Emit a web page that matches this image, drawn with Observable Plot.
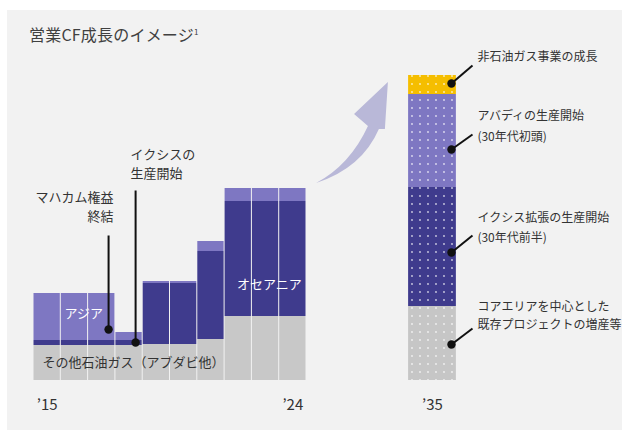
<!DOCTYPE html>
<html>
<head>
<meta charset="utf-8">
<script src="https://cdn.jsdelivr.net/npm/d3@7"></script>
<script src="https://cdn.jsdelivr.net/npm/@observablehq/plot@0.6"></script>
<style>
  body { margin: 0; background: #ffffff; font-family: "Noto Sans CJK JP", "Noto Sans", sans-serif; }
  #panel { position: absolute; left: 7px; top: 10px; width: 615px; height: 420px; background: #f2f2f2; }
  #title { position: absolute; left: 29px; top: 22px; font-size: 16px; color: #404040; letter-spacing: 0.2px; }
  #title sup { font-size: 8px; vertical-align: 6px; }
  #chart { position: absolute; left: 0; top: 0; }
</style>
</head>
<body>
<div id="panel"></div>
<div id="chart"></div>
<div id="title">営業CF成長のイメージ<sup>1</sup></div>
<script>
// ---- data (bar heights in arbitrary units) ----
const years = ["2015","2016","2017","2018","2019","2020","2021","2022","2023","2024"];
const otherOilGas = [35, 35, 35, 35, 36, 36, 41, 64, 64, 64];   // その他石油ガス（アブダビ他）
const oceania     = [5, 5, 5, 5, 61, 61, 88, 115, 115, 115];    // オセアニア
const asia        = [47, 47, 47, 8, 2, 2, 10, 13, 13, 13];     // アジア
const seriesNames = ["その他石油ガス（アブダビ他）", "オセアニア", "アジア"];

const futureYear = "2035";
const futureSegments = ["既存プロジェクトの増産等", "イクシス拡張", "アバディ", "非石油ガス事業"];
const futureValues = [74, 119, 93, 19];

const tickLabels = ["’15", "’24", "’35"];

// ---- styles & layout ----
const seriesColors = ["#c8c8c8", "#3f3b8d", "#7e77c2"];
const futureColors = ["#c6c6c6", "#3f3b8d", "#7e77c2", "#f5be00"];
const futureSlot = [13.74, 15.49];   // x-extent of the 2035 bar (slot units)

// build stacked rows
const leftRows = [];
years.forEach((yr, i) => {
  const vals = [otherOilGas[i], oceania[i], asia[i]];
  let base = 0;
  vals.forEach((v, k) => {
    leftRows.push({year: yr, i, series: seriesNames[k], y1: base, y2: base + v, color: seriesColors[k]});
    base += v;
  });
});
const futureRows = [];
{
  let base = 0;
  futureValues.forEach((v, k) => {
    futureRows.push({segment: futureSegments[k], y1: base, y2: base + v, fill: `url(#dots${k})`});
    base += v;
  });
}

// labels in bars
const barLabels = [
  {text: seriesNames[2], x: 1.84, y: 67, fill: "white", anchor: "middle", size: 13},
  {text: seriesNames[1], x: 8.64, y: 96, fill: "white", anchor: "middle", size: 13},
  {text: seriesNames[0], x: 0.33, y: 18, fill: "#333", anchor: "start", size: 13}
];

// left annotations
const leftNotes = [
  {lines: ["マハカム権益", "終結"], tx: 2.93, ty: [183, 164], anchor: "end", lx: 2.75, ly1: 51, ly2: 145},
  {lines: ["イクシスの", "生産開始"], tx: 3.55, ty: [226, 207], anchor: "start", lx: 3.74, ly1: 38, ly2: 190}
];
// right annotations
const rightNotes = [
  {lines: ["非石油ガス事業の成長"], ty: [323], dy: 297, ey: 315},
  {lines: ["アバディの生産開始", "(30年代初頭)"], ty: [264, 243], dy: 231, ey: 246},
  {lines: ["イクシス拡張の生産開始", "(30年代前半)"], ty: [162, 142], dy: 128, ey: 145},
  {lines: ["コアエリアを中心とした", "既存プロジェクトの増産等"], ty: [73, 55], dy: 36, ey: 52}
];
const rDotX = 15.31, rEndX = 16.08, rTextX = 16.26;

const textRows = [];
leftNotes.forEach(n => n.lines.forEach((t, j) => textRows.push({text: t, x: n.tx, y: n.ty[j], anchor: n.anchor, size: 13})));
rightNotes.forEach(n => n.lines.forEach((t, j) => textRows.push({text: t, x: rTextX, y: n.ty[j], anchor: "start", size: 12})));
textRows.push(...barLabels.map(d => ({...d})));

const links = [
  ...leftNotes.map(n => ({x1: n.lx, y1: n.ly1, x2: n.lx, y2: n.ly2})),
  ...rightNotes.map(n => ({x1: rDotX, y1: n.dy, x2: rEndX, y2: n.ey}))
];
const dots = [
  ...leftNotes.map(n => ({x: n.lx, y: n.ly1})),
  ...rightNotes.map(n => ({x: rDotX, y: n.dy}))
];

const ticks = [
  {text: tickLabels[0], x: 0.5},
  {text: tickLabels[1], x: years.length - 0.5},
  {text: tickLabels[2], x: (futureSlot[0] + futureSlot[1]) / 2}
];

// growth arrow outline (slot units / value units)
const arrowPts = {
  tail: [10.37, 197], c1: [11.61, 215], neckL: [12.27, 254], barbL: [11.76, 266],
  tip: [13.0, 298], barbR: [12.89, 251], neckR: [12.67, 251], c2: [12.05, 212]
};

const font = "'Noto Sans CJK JP', 'Noto Sans', sans-serif";
const textMarks = [];
["start", "middle", "end"].forEach(a => [12, 13].forEach(s => {
  const rows = textRows.filter(d => d.anchor === a && d.size === s);
  if (rows.length) textMarks.push(Plot.text(rows, {
    x: "x", y: "y", text: "text", textAnchor: a,
    fill: d => d.fill || "#333", fontSize: s
  }));
}));

const plot = Plot.plot({
  width: 622,
  height: 430,
  style: {background: "transparent", fontFamily: font, overflow: "visible"},
  x: {domain: [0, 10], range: [33, 306], axis: null},
  y: {domain: [0, 305], range: [380, 75], axis: null},
  color: {type: "identity"},
  marks: [
    Plot.rect(leftRows, {x1: "i", x2: d => d.i + 1, y1: "y1", y2: "y2", fill: "color", insetLeft: 0.5, insetRight: 0.5}),
    Plot.rect(futureRows, {x1: () => futureSlot[0], x2: () => futureSlot[1], y1: "y1", y2: "y2", fill: "fill"}),
    Plot.link(links, {x1: "x1", y1: "y1", x2: "x2", y2: "y2", stroke: "#111", strokeWidth: 2}),
    Plot.dot(dots, {x: "x", y: "y", r: 4.2, fill: "#111"}),
    ...textMarks,
    Plot.text(ticks, {x: "x", y: -25, text: "text", fill: "#333", fontSize: 15})
  ]
});
document.getElementById("chart").appendChild(plot);

const svg = d3.select(plot);
// dot patterns for the 2035 bar
const defs = svg.insert("defs", ":first-child");
futureColors.forEach((c, k) => {
  const p = defs.append("pattern").attr("id", `dots${k}`).attr("patternUnits", "userSpaceOnUse")
    .attr("width", 8).attr("height", 8);
  p.append("rect").attr("width", 8).attr("height", 8).attr("fill", c);
  p.append("circle").attr("cx", 4).attr("cy", 4).attr("r", 0.9).attr("fill", "white").attr("fill-opacity", 0.75);
});

// arrow
const sx = plot.scale("x"), sy = plot.scale("y");
const P = k => `${sx.apply(arrowPts[k][0])},${sy.apply(arrowPts[k][1])}`;
svg.append("path")
  .attr("d", `M${P("tail")}Q${P("c1")} ${P("neckL")}L${P("barbL")}L${P("tip")}L${P("barbR")}L${P("neckR")}Q${P("c2")} ${P("tail")}Z`)
  .attr("fill", "#b9b8d8");
</script>
</body>
</html>
